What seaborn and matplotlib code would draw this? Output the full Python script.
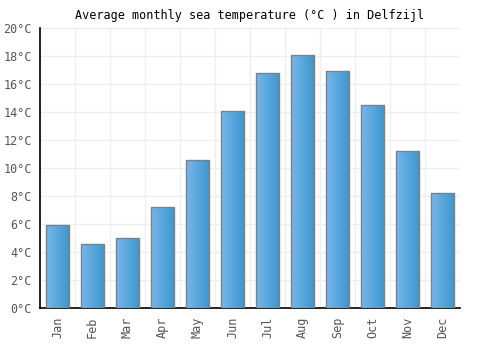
import numpy as np
import pandas as pd
import matplotlib
matplotlib.use("Agg")
import matplotlib.pyplot as plt
import seaborn as sns
from matplotlib.colors import LinearSegmentedColormap

months = ["Jan", "Feb", "Mar", "Apr", "May", "Jun", "Jul", "Aug", "Sep", "Oct", "Nov", "Dec"]
temps = [5.9, 4.6, 5.0, 7.2, 10.6, 14.1, 16.8, 18.1, 16.9, 14.5, 11.2, 8.2]
yticks = [0, 2, 4, 6, 8, 10, 12, 14, 16, 18, 20]
title = "Average monthly sea temperature (°C ) in Delfzijl"

df = pd.DataFrame({"month": months, "temp": temps})

sns.set_style("white")
plt.rcParams["font.family"] = ["DejaVu Sans Mono"]

fig = plt.figure(figsize=(5, 3.5), dpi=100)
ax = fig.add_axes([40/500, 1 - 308/350, 420/500, 280/350])

sns.barplot(data=df, x="month", y="temp", ax=ax, width=0.67,
            color="#4fa3dc", edgecolor="#808080", linewidth=1.0, zorder=3)

cmap = LinearSegmentedColormap.from_list("g", ["#78b6ea", "#3a97cf"])
grad = np.linspace(0, 1, 64).reshape(1, -1)
for p in ax.patches:
    x0, y0 = p.get_x(), p.get_y()
    w, h = p.get_width(), p.get_height()
    im = ax.imshow(grad, cmap=cmap, aspect="auto", extent=[x0, x0 + w, y0, y0 + h],
                   zorder=3.5, interpolation="bilinear")
    im.set_clip_path(p)
    p.set_facecolor("none")
    p.set_zorder(4)

ax.set_xlim(-0.5, 11.5)
ax.set_ylim(0, 20)
ax.set_yticks(yticks)
ax.set_yticklabels([f"{v}°C" for v in yticks])
ax.set_xticks(range(12))
ax.set_xticklabels(months, rotation=90)
ax.set_xticks(np.arange(-0.5, 12, 1), minor=True)
ax.grid(False)
ax.grid(axis="x", which="minor", color="#eeeeee", linewidth=1, zorder=0)
ax.grid(axis="y", which="major", color="#eeeeee", linewidth=1, zorder=0)
ax.tick_params(axis="both", which="both", length=0, labelsize=8.5, labelcolor="#555555")
ax.tick_params(axis="x", pad=6)
ax.tick_params(axis="y", pad=6)
ax.set_xlabel("")
ax.set_ylabel("")
for s in ["top", "right"]:
    ax.spines[s].set_visible(False)
for s in ["left", "bottom"]:
    ax.spines[s].set_color("black")
    ax.spines[s].set_linewidth(1.2)

fig.text(0.5, 1 - 16/350, title, ha="center", va="center", fontsize=8.5, color="black")

fig.savefig("out.png", dpi=100)
